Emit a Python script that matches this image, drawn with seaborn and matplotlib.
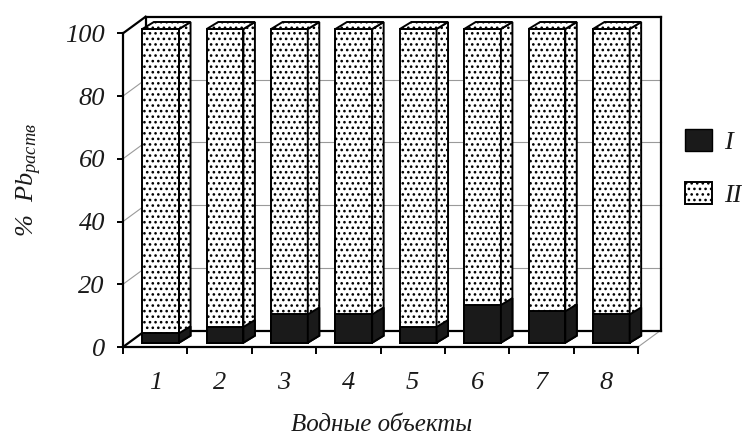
import numpy as np
import pandas as pd
import matplotlib
matplotlib.use('Agg')
import matplotlib.pyplot as plt
import seaborn as sns
from matplotlib.patches import Polygon, Patch

# ---- data ----
objects = ['1', '2', '3', '4', '5', '6', '7', '8']
share_I = [3, 5, 9, 9, 5, 12, 10, 9]
share_II = [97, 95, 91, 91, 95, 88, 90, 91]
y_ticks = [0, 20, 40, 60, 80, 100]
x_title = 'Водные объекты'
y_title = r'%  $Pb_{раств}$'
legend_labels = ['I', 'II']

sns.set_theme(style='white')
plt.rcParams['font.family'] = ['Liberation Serif', 'DejaVu Serif']
plt.rcParams['font.style'] = 'italic'
plt.rcParams['mathtext.fontset'] = 'custom'
plt.rcParams['mathtext.it'] = 'Liberation Serif:italic'
plt.rcParams['mathtext.rm'] = 'Liberation Serif:italic'
plt.rcParams['hatch.linewidth'] = 1.1
plt.rcParams['hatch.color'] = 'black'

HATCH = '...'
TXT = '#1a1a1a'

W, H = 742, 438
fig = plt.figure(figsize=(W / 100, H / 100), dpi=100)
ax = fig.add_axes([123 / W, 1 - 347 / H, (638 - 123) / W, (347 - 33.3) / H])

df = pd.DataFrame({'obj': objects, 'I': share_I, 'II': share_II})
df['total'] = df['I'] + df['II']

BAR_W = 0.57
sns.barplot(data=df, x='obj', y='total', color='white', edgecolor='black',
            linewidth=1.4, hatch=HATCH, width=BAR_W, saturation=1, ax=ax,
            zorder=3)
sns.barplot(data=df, x='obj', y='I', color='#1a1a1a', edgecolor='black',
            linewidth=1.4, width=BAR_W, saturation=1, ax=ax, zorder=4)

ax.set_xlim(-0.5, 7.5)
ax.set_ylim(0, 100)
ax.set_xlabel('')
ax.set_ylabel('')

# pixel offsets for the oblique depth
F = np.array([5.5, 4.3])          # bar front face
B = F + np.array([11.5, 7.0])     # bar back face
D = np.array([22.5, 16.5])        # wall depth


def off(x, y, dpx):
    d = ax.transData.transform((x, y))
    return ax.transData.inverted().transform(d + dpx)


n = len(objects)
patches = list(ax.patches)
tot_patches = patches[:n]
blk_patches = patches[n:2 * n]

for group, fc, z, top in [(tot_patches, 'white', 3, True),
                          (blk_patches, '#1a1a1a', 4, False)]:
    for p in group:
        x0, y0 = p.get_x(), p.get_y()
        x1, y1 = x0 + p.get_width(), y0 + p.get_height()
        a = off(x0, y0, F)
        b = off(x1, y1, F)
        p.set_x(a[0]); p.set_y(a[1])
        p.set_width(b[0] - a[0]); p.set_height(b[1] - a[1])
        p.set_clip_on(False)
        hatch = HATCH if fc == 'white' else None
        side = [off(x1, y0, F), off(x1, y0, B), off(x1, y1, B), off(x1, y1, F)]
        ax.add_patch(Polygon(side, closed=True, facecolor=fc, edgecolor='black',
                             linewidth=1.4, hatch=hatch, zorder=z,
                             clip_on=False))
        if top:
            tp = [off(x0, y1, F), off(x0, y1, B), off(x1, y1, B), off(x1, y1, F)]
            ax.add_patch(Polygon(tp, closed=True, facecolor=fc, edgecolor='black',
                                 linewidth=1.4, hatch=hatch, zorder=z,
                                 clip_on=False))

# ---- walls ----
L, R = -0.5, 7.5


def seg(p, q, color='black', lw=1.6, z=1):
    ax.plot([p[0], q[0]], [p[1], q[1]], color=color, lw=lw, zorder=z,
            clip_on=False, solid_capstyle='projecting')


for t in y_ticks[1:-1]:
    seg((L, t), off(L, t, D), color='#9a9a9a', lw=0.8)
    seg(off(L, t, D), off(R, t, D), color='#9a9a9a', lw=0.8)
seg((R, 0), off(R, 0, D), color='#9a9a9a', lw=0.8)
seg((L, 100), off(L, 100, D))
seg((L, 0), off(L, 0, D))
seg(off(L, 100, D), off(R, 100, D))
seg(off(L, 0, D), off(R, 0, D))
seg(off(R, 0, D), off(R, 100, D))
seg(off(L, 0, D), off(L, 100, D))

# ---- axes styling ----
for s in ['top', 'right']:
    ax.spines[s].set_visible(False)
for s in ['left', 'bottom']:
    ax.spines[s].set_color('black')
    ax.spines[s].set_linewidth(1.6)
ax.set_yticks(y_ticks)
ax.set_yticklabels([str(v) for v in y_ticks])
ax.tick_params(axis='y', left=True, direction='out', length=4, width=1.4,
               color='black', pad=9, labelsize=19, labelcolor=TXT)
ax.set_xticks(range(n))
ax.set_xticklabels(objects)
ax.set_xticks(np.arange(-0.5, n, 1.0), minor=True)
ax.tick_params(axis='x', which='major', length=0, pad=18, labelsize=19,
               labelcolor=TXT)
ax.tick_params(axis='x', which='minor', bottom=True, direction='out',
               length=5, width=1.4, color='black')
ax.set_facecolor('none')

fig.text(382 / W, 1 - 425 / H, x_title, ha='center', va='center',
         fontsize=18, color=TXT)
fig.text(29 / W, 1 - 180 / H, y_title, rotation=90, ha='center',
         va='center', fontsize=19, color=TXT)

handles = [Patch(facecolor='#1a1a1a', edgecolor='black'),
           Patch(facecolor='white', edgecolor='black', hatch=HATCH,
                 linewidth=1.4)]
ax.legend(handles, legend_labels, loc='upper left',
          bbox_to_anchor=(685 / W, 1 - 129 / H), bbox_transform=fig.transFigure,
          frameon=False, fontsize=19, handlelength=1.02, handleheight=0.91,
          handletextpad=0.45, labelspacing=1.05, borderpad=0,
          borderaxespad=0, labelcolor=TXT)

fig.savefig('out.png', dpi=100)
